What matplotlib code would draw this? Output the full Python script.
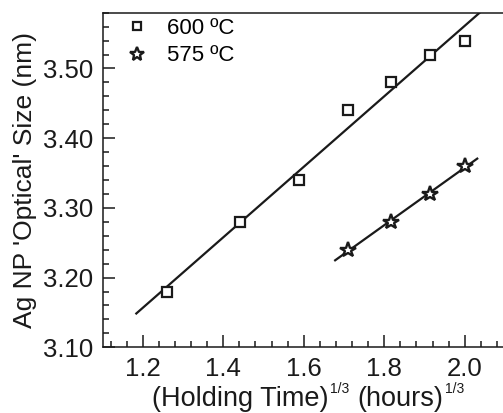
import numpy as np
import matplotlib
matplotlib.use("Agg")
import matplotlib.pyplot as plt
from matplotlib.ticker import MultipleLocator, FormatStrFormatter

plt.rcParams['font.family'] = ['Liberation Sans', 'DejaVu Sans']

# data: x = (holding time)^(1/3), y = optical size (nm)
x_600 = [1.260, 1.442, 1.587, 1.710, 1.817, 1.913, 2.000]
y_600 = [3.18, 3.28, 3.34, 3.44, 3.48, 3.52, 3.54]
x_575 = [1.710, 1.817, 1.913, 2.000]
y_575 = [3.24, 3.28, 3.32, 3.36]
fit_range_600 = [1.184, 2.10]
fit_range_575 = [1.678, 2.031]
labels = ['600 ºC', '575 ºC']
xlabel_parts = ['(Holding Time)', '1/3', '(hours)', '1/3']
ylabel = "Ag NP 'Optical' Size (nm)"

W, H = 503, 413
fig = plt.figure(figsize=(W / 100, H / 100), dpi=100)
left, right, top, bottom = 102.5, 503, 12.7, 347.3
ax = fig.add_axes([left / W, 1 - bottom / H, (right - left) / W, (bottom - top) / H])

p600 = np.polyfit(x_600, y_600, 1)
p575 = np.polyfit(x_575, y_575, 1)
xf1 = np.array(fit_range_600)
xf2 = np.array(fit_range_575)
ax.plot(xf1, np.polyval(p600, xf1), color='#1a1a1a', lw=1.6, zorder=2)
ax.plot(xf2, np.polyval(p575, xf2), color='#1a1a1a', lw=1.6, zorder=2)

h1, = ax.plot(x_600, y_600, ls='none', marker='s', ms=7, mfc='white', mec='#1a1a1a', mew=1.6, zorder=3, label=labels[0])
h2, = ax.plot(x_575, y_575, ls='none', marker='*', ms=11.5, mfc='white', mec='#1a1a1a', mew=1.7, zorder=3, label=labels[1])

px_per_unit = 402.5
ax.set_xlim(1.1, 1.1 + (right - left) / px_per_unit)
ax.set_ylim(3.10, 3.58)

ax.xaxis.set_major_locator(MultipleLocator(0.2))
ax.xaxis.set_minor_locator(MultipleLocator(0.04))
ax.yaxis.set_major_locator(MultipleLocator(0.1))
ax.yaxis.set_minor_locator(MultipleLocator(0.02))
ax.xaxis.set_major_formatter(FormatStrFormatter('%.1f'))
ax.yaxis.set_major_formatter(FormatStrFormatter('%.2f'))

ax.spines['right'].set_visible(False)
for s in ['left', 'bottom', 'top']:
    ax.spines[s].set_linewidth(1.1)
    ax.spines[s].set_color('#1a1a1a')

ax.tick_params(which='both', direction='in', top=False, right=False, colors='#1a1a1a', width=1.1)
ax.tick_params(which='major', length=8.5, labelsize=18.5, pad=7)
ax.tick_params(which='minor', length=4.5)

ax.set_ylabel(ylabel, fontsize=19, labelpad=4, color='#1a1a1a')

# x label built from pieces with small superscripts
renderer = fig.canvas.get_renderer()
main_size, sup_size = 19.5, 10
base_y = H - 406          # baseline in display pixels (from bottom)
sup_dy = 13
gaps = [0, 1, 9, 1]
texts = []
x = 0.0
for i, part in enumerate(xlabel_parts):
    is_sup = (i % 2 == 1)
    t = fig.text(x + gaps[i], base_y + (sup_dy if is_sup else 0), part,
                 fontsize=sup_size if is_sup else main_size, va='baseline', ha='left',
                 color='#1a1a1a', transform=None)
    x = t.get_window_extent(renderer).x1
    texts.append(t)
total = x
x0 = 308 - total / 2
for t in texts:
    px, py = t.get_position()
    t.set_position((px + x0, py))

leg = ax.legend(handles=[h1, h2], loc='upper left', bbox_to_anchor=(0.025, 1.025), frameon=False,
                fontsize=16, handlelength=1.0, handletextpad=0.85, labelspacing=0.3, borderaxespad=0.2,
                markerscale=0.9)

fig.savefig('out.png', dpi=100)
